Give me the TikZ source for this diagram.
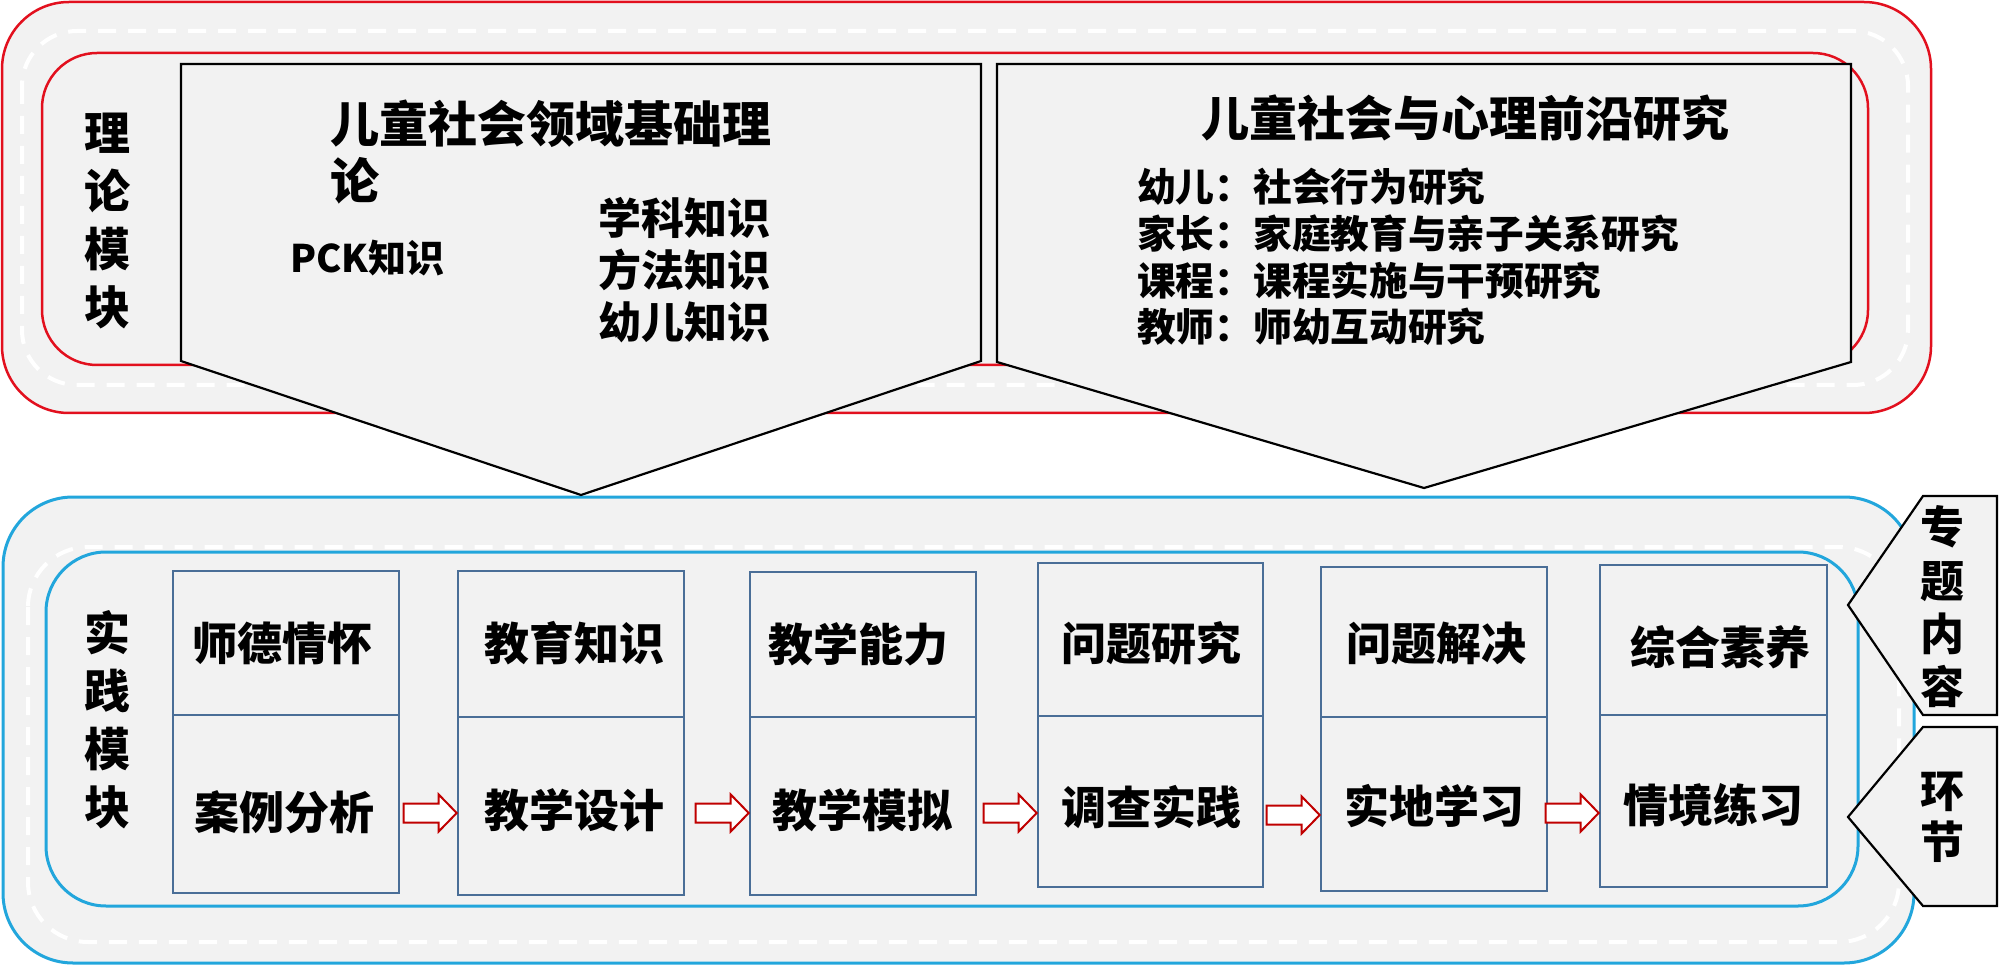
\documentclass[tikz,border=0pt]{standalone}
\usepackage{fontspec}
\newfontfamily\cjk{Noto Sans CJK SC}
\definecolor{bgray}{HTML}{F2F2F2}
\definecolor{ringred}{HTML}{E2101E}
\definecolor{ringblue}{HTML}{22A6DC}
\definecolor{cellblue}{HTML}{4A6E97}
\definecolor{arrred}{HTML}{C00000}
\begin{document}
\begin{tikzpicture}[x=1pt,y=-1pt,
  redring/.style={draw=ringred,line width=2.5pt,fill=bgray},
  bluering/.style={draw=ringblue,line width=3pt,fill=bgray},
  whitedash/.style={draw=white,line width=4pt,dash pattern=on 18pt off 12pt},
  penta/.style={draw=black,line width=2.2pt,fill=bgray,line join=miter},
  cell/.style={draw=cellblue,line width=2.6pt,fill=bgray,inner sep=0pt,minimum width=226pt},
  celltext/.style={font=\cjk\bfseries\fontsize{45}{54}\selectfont,inner sep=0pt},
  vtext/.style={font=\cjk\bfseries\fontsize{46}{58}\selectfont,align=center,inner sep=0pt},
  barrow/.pic={\draw[draw=arrred,fill=white,line width=2pt,line join=miter]
     (-53,-9.5) -- (-18,-9.5) -- (-18,-18.5) -- (0,0) -- (-18,18.5) -- (-18,9.5) -- (-53,9.5) -- cycle;}
]
\useasboundingbox (0,0) rectangle (2000,965);
% ---------- theory module frame ----------
\path[redring,rounded corners=67pt] (2,2) rectangle (1931,413);
\path[whitedash,rounded corners=55pt] (22,31) rectangle (1908,385);
\path[redring,rounded corners=55pt] (42,53) rectangle (1868,365);
\node[vtext] (lilun) at (107,221.5) {理\\论\\模\\块};
% ---------- practice module frame ----------
\path[bluering,rounded corners=70pt] (3,497) rectangle (1914,963);
\path[whitedash,rounded corners=60pt] (28,547) rectangle (1899,942);
\path[bluering,rounded corners=60pt] (46,552) rectangle (1858,906);
\node[vtext] (shijian) at (107,720) {实\\践\\模\\块};
% ---------- pentagons (theory) ----------
\path[penta] (181,64) -- (981,64) -- (981,361) -- (581,495) -- (181,361) -- cycle;
\path[penta] (997,64) -- (1851,64) -- (1851,362) -- (1424,488) -- (997,362) -- cycle;
\node[font=\cjk\bfseries\fontsize{49}{57}\selectfont,align=left,inner sep=0pt,anchor=west] (jichu) at (330,152) {儿童社会领域基础理\\论};
\node[font=\cjk\bfseries\fontsize{38}{46}\selectfont,inner sep=0pt,anchor=west] (pck) at (290,258) {PCK知识};
\node[font=\cjk\bfseries\fontsize{43}{52}\selectfont,align=left,inner sep=0pt,anchor=west] (zhishi) at (598,270) {学科知识\\方法知识\\幼儿知识};
\node[font=\cjk\bfseries\fontsize{48}{56}\selectfont,inner sep=0pt] (qianyan) at (1465,118) {儿童社会与心理前沿研究};
\node[font=\cjk\bfseries\fontsize{38.7}{46.7}\selectfont,align=left,inner sep=0pt,anchor=west] (yanjiu) at (1137,257)
  {幼儿：社会行为研究\\家长：家庭教育与亲子关系研究\\课程：课程实施与干预研究\\教师：师幼互动研究};
% ---------- side tags ----------
\path[penta] (1997,496) -- (1923,496) -- (1848,605) -- (1923,715) -- (1997,715) -- cycle;
\path[penta] (1997,727) -- (1923,727) -- (1848,817) -- (1923,906) -- (1997,906) -- cycle;
\node[font=\cjk\bfseries\fontsize{44}{53.3}\selectfont,align=center,inner sep=0pt] (zhuanti) at (1942,607) {专\\题\\内\\容};
\node[font=\cjk\bfseries\fontsize{44}{51}\selectfont,align=center,inner sep=0pt] (huanjie) at (1942,817.5) {环\\节};
% ---------- cells ----------
\node[cell,minimum height=144pt] (c1a) at (286,643) {};
\node[cell,minimum height=178pt] (c1b) at (286,804) {};
\node[cell,minimum height=146pt] (c2a) at (571,644) {};
\node[cell,minimum height=178pt] (c2b) at (571,806) {};
\node[cell,minimum height=145pt] (c3a) at (863,644.5) {};
\node[cell,minimum height=178pt] (c3b) at (863,806) {};
\node[cell,minimum width=225pt,minimum height=153pt] (c4a) at (1150.5,639.5) {};
\node[cell,minimum width=225pt,minimum height=171pt] (c4b) at (1150.5,801.5) {};
\node[cell,minimum height=150pt] (c5a) at (1434,642) {};
\node[cell,minimum height=174pt] (c5b) at (1434,804) {};
\node[cell,minimum width=227pt,minimum height=150pt] (c6a) at (1713.5,640) {};
\node[cell,minimum width=227pt,minimum height=172pt] (c6b) at (1713.5,801) {};
% cell texts
\node[celltext] (t1a) at (282,643) {师德情怀};
\node[celltext] (t1b) at (284,812) {案例分析};
\node[celltext] (t2a) at (574,643) {教育知识};
\node[celltext] (t2b) at (574,810) {教学设计};
\node[celltext] (t3a) at (858,644) {教学能力};
\node[celltext] (t3b) at (862,810) {教学模拟};
\node[celltext] (t4a) at (1151,643) {问题研究};
\node[celltext] (t4b) at (1151,807) {调查实践};
\node[celltext] (t5a) at (1436,643) {问题解决};
\node[celltext] (t5b) at (1434,806) {实地学习};
\node[celltext] (t6a) at (1720,647) {综合素养};
\node[celltext] (t6b) at (1713,805) {情境练习};
% block arrows (tips on the next cell's left side)
\coordinate (p12) at (c2b.west |- 0,813);
\coordinate (p23) at (c3b.west |- 0,813);
\coordinate (p34) at (c4b.west |- 0,813);
\coordinate (p45) at (c5b.west |- 0,815);
\coordinate (p56) at (c6b.west |- 0,813);
\pic at (p12) {barrow};
\pic at (p23) {barrow};
\pic at (p34) {barrow};
\pic at (p45) {barrow};
\pic at (p56) {barrow};
\end{tikzpicture}
\end{document}
